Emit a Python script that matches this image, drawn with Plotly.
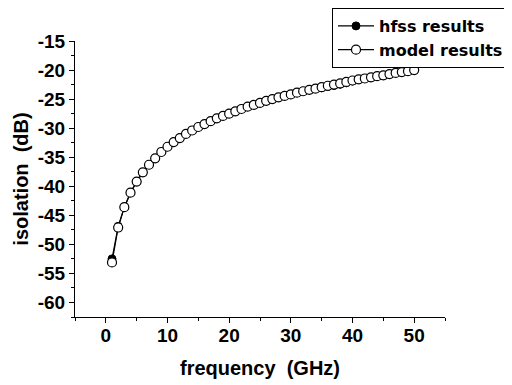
import plotly.graph_objects as go

freq = list(range(1, 51))
model = [-53.1, -47.1, -43.6, -41.1, -39.2, -37.6, -36.3, -35.2, -34.1, -33.2,
         -32.4, -31.7, -31.0, -30.4, -29.8, -29.3, -28.8, -28.3, -27.9, -27.5,
         -27.1, -26.7, -26.3, -26.0, -25.65, -25.3, -25.0, -24.7, -24.45, -24.2,
         -23.9, -23.65, -23.4, -23.2, -22.95, -22.7, -22.5, -22.3, -22.05, -21.8,
         -21.6, -21.45, -21.25, -21.05, -20.9, -20.7, -20.5, -20.35, -20.2, -20.0]
hfss = [-52.5, -46.9, -43.6, -41.1, -39.2, -37.6, -36.3, -35.2, -34.1, -33.2,
        -32.4, -31.7, -31.0, -30.4, -29.8, -29.3, -28.8, -28.3, -27.9, -27.5,
        -27.1, -26.7, -26.3, -26.0, -25.65, -25.3, -25.0, -24.7, -24.45, -24.2,
        -23.9, -23.65, -23.4, -23.2, -23.05, -22.85, -22.65, -22.45, -22.2, -21.9,
        -21.6, -21.45, -21.25, -21.05, -20.9, -20.7, -20.5, -20.35, -20.2, -20.0]

FONT = "Liberation Sans, Arial, sans-serif"
LEGFONT = "DejaVu Sans, Liberation Sans, sans-serif"
W, H = 504, 377

fig = go.Figure()
fig.add_trace(go.Scatter(x=freq, y=hfss, mode="lines+markers", name="hfss results",
                         line=dict(color="black", width=1.2),
                         marker=dict(symbol="circle", size=8, color="black",
                                     line=dict(color="black", width=1))))
fig.add_trace(go.Scatter(x=freq, y=model, mode="lines+markers", name="model results",
                         line=dict(color="black", width=1.2),
                         marker=dict(symbol="circle", size=9, color="white",
                                     line=dict(color="black", width=1.2))))

fig.update_layout(
    width=W, height=H,
    margin=dict(l=67, r=W - 67 - 370, t=33, b=H - 33 - 276, autoexpand=False),
    paper_bgcolor="white", plot_bgcolor="white",
    font=dict(family=FONT, size=19, color="black"),
    showlegend=True,
    legend=dict(xref="container", yref="container", x=324/W, y=1 + 7/H,
                xanchor="left", yanchor="top",
                bordercolor="black", borderwidth=1, bgcolor="white",
                font=dict(family=LEGFONT, size=16, color="black", weight="bold"),
                itemwidth=36, tracegroupgap=0),
    xaxis=dict(range=[-5, 55], tickvals=[0, 10, 20, 30, 40, 50],
               showgrid=False, zeroline=False, showline=True, linecolor="black", linewidth=1,
               ticks="outside", ticklen=5, tickcolor="black", ticklabelstandoff=-4,
               minor=dict(dtick=5, tick0=0, ticks="outside", ticklen=3, tickcolor="black"),
               tickfont=dict(family=FONT, size=19, weight="bold"),
               title=dict(text="frequency  (GHz)", font=dict(family=FONT, size=20, weight="bold"),
                          standoff=16)),
    yaxis=dict(range=[-62.5, -15], tickvals=[-15, -20, -25, -30, -35, -40, -45, -50, -55, -60],
               ticktext=["-15", "-20", "-25", "-30", "-35", "-40", "-45", "-50", "-55", "-60"],
               showgrid=False, zeroline=False, showline=True, linecolor="black", linewidth=1,
               ticks="outside", ticklen=5, tickcolor="black",
               minor=dict(dtick=2.5, tick0=-15, ticks="outside", ticklen=3, tickcolor="black"),
               tickfont=dict(family=FONT, size=19, weight="bold"),
               title=dict(text="isolation  (dB)", font=dict(family=FONT, size=20, weight="bold"),
                          standoff=3)),
)

fig.write_html("out.html")
